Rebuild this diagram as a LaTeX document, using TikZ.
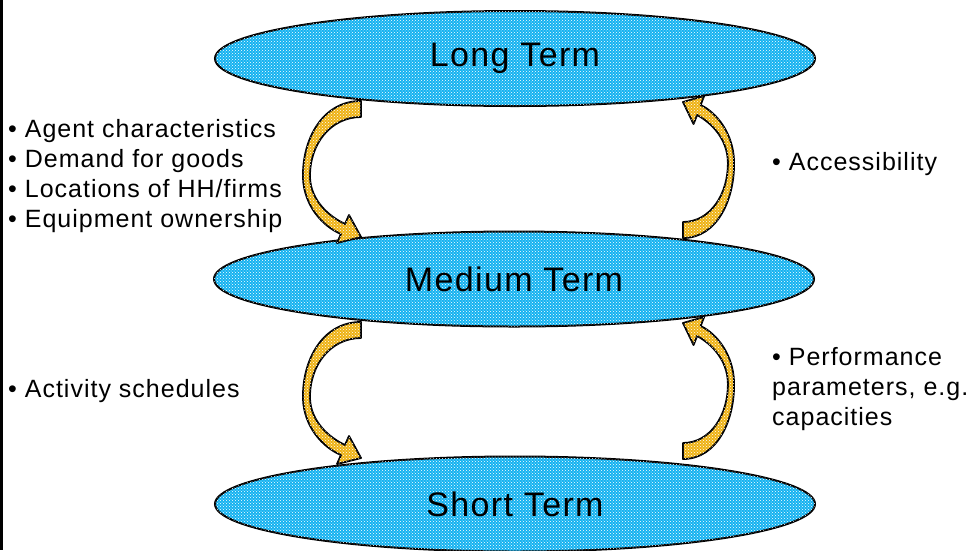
\documentclass[tikz,border=0pt]{standalone}
\usepackage{fontspec}
\setmainfont[LetterSpace=4]{Liberation Sans}
\usetikzlibrary{shapes.geometric,patterns,calc}
\definecolor{skyb}{RGB}{20,178,240}
\definecolor{goldc}{RGB}{238,178,20}
\tikzset{
  term/.style={ellipse, draw=black, line width=2pt, fill=skyb, minimum width=600pt, minimum height=95pt, inner sep=0pt,
    font=\fontsize{34}{40}\selectfont, postaction={pattern=crosshatch dots, pattern color=white}},
  blockarrow/.style={draw=black, line width=1.8pt, line join=round, fill=goldc,
    postaction={pattern=crosshatch dots, pattern color=white}},
  txt/.style={anchor=west, align=left, inner sep=0pt, font=\fontsize{25}{30}\selectfont},
  curvarrow/.pic={
    \path[blockarrow] (0,-8) .. controls (-39,-8) and (-59,31) .. (-58,69)
      .. controls (-57,96) and (-39,117) .. (-20,125) -- (-24,134) -- (0,128) -- (-12,106) -- (-16,115)
      .. controls (-33,107) and (-50,91) .. (-51,69) .. controls (-52,36) and (-31,8) .. (0,8) -- cycle;
  }
}
\begin{document}
\begin{tikzpicture}[x=1pt,y=-1pt]
\useasboundingbox (0,0) rectangle (969,550);
\fill[white] (0,0) rectangle (969,550);
\fill[black] (0,0) rectangle (3,550);

\node[term] (long) at (515,58.5) {Long Term};
\node[term] (medium) at (514,279) {Medium Term};
\node[term] (short) at (515,504) {Short Term};

\pic at ($(long.center)+(-154,50.5)$) {curvarrow};
\pic[rotate=180, xscale=0.88] at ($(medium.center)+(169,-49)$) {curvarrow};
\pic at ($(medium.center)+(-153,51)$) {curvarrow};
\pic[rotate=180, xscale=0.88] at ($(short.center)+(168,-53)$) {curvarrow};

\node[txt] (lt) at (8,176) {• Agent characteristics\\• Demand for goods\\• Locations of HH/firms\\• Equipment ownership};
\node[txt] (acc) at (772,164) {• Accessibility};
\node[txt] (act) at (8,391) {• Activity schedules};
\node[txt] (perf) at (772,389) {• Performance\\parameters, e.g.\\capacities};
\end{tikzpicture}
\end{document}
